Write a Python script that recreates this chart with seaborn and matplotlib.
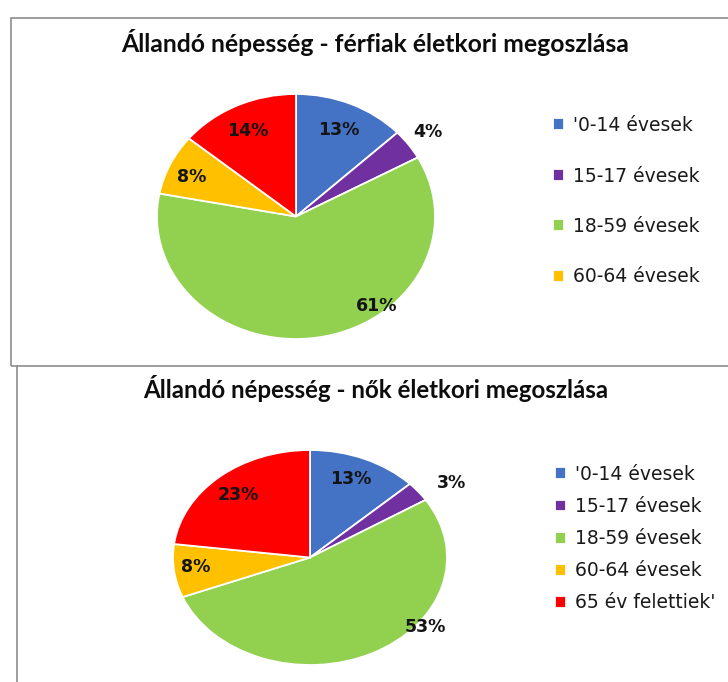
import numpy as np
import matplotlib
matplotlib.use("Agg")
import matplotlib.pyplot as plt
import seaborn as sns
from matplotlib.patches import Rectangle
from matplotlib.lines import Line2D

# ---- data ----
categories = ["'0-14 évesek", "15-17 évesek", "18-59 évesek", "60-64 évesek", "65 év felettiek'"]
men_values = [13, 4, 61, 8, 14]
women_values = [13, 3, 53, 8, 23]
men_title = "Állandó népesség - férfiak életkori megoszlása"
women_title = "Állandó népesség - nők életkori megoszlása"

sns.set_theme(style="white")
plt.rcParams['font.family'] = ['DejaVu Sans']
colors = sns.color_palette(["#4472C4", "#7030A0", "#92D050", "#FFC000", "#FF0000"])

W, H = 728, 682
fig = plt.figure(figsize=(W / 100, H / 100), dpi=100)
fig.patch.set_facecolor("white")


def fx(x):
    return x / W


def fy(y):
    return 1 - y / H


# frames
fig.patches.append(Rectangle((fx(11), fy(366)), fx(740) - fx(11), fy(18) - fy(366),
                             transform=fig.transFigure, fill=False,
                             edgecolor="#8c8c8c", linewidth=1.2))
fig.lines.append(Line2D([fx(17), fx(17)], [fy(366), fy(683)], transform=fig.transFigure,
                        color="#8c8c8c", linewidth=1.2))


def draw_pie(box, values, dists, offsets):
    x0, y0, x1, y1 = box
    ax = fig.add_axes([fx(x0), fy(y1), fx(x1) - fx(x0), fy(y0) - fy(y1)])
    wedges, _ = ax.pie(values, colors=colors, startangle=90, counterclock=False,
                       radius=1, wedgeprops=dict(edgecolor="white", linewidth=1.3))
    ax.set_xlim(-1, 1)
    ax.set_ylim(-1, 1)
    ax.set_aspect("auto")
    ax.axis("off")
    for w, v, d, off in zip(wedges, values, dists, offsets):
        mid = np.deg2rad((w.theta1 + w.theta2) / 2 + off)
        ax.text(d * np.cos(mid), d * np.sin(mid), f"{v}%", ha="center", va="center",
                fontsize=12.5, fontweight="bold", color="#141414", clip_on=False)
    return wedges


def fit_title(text, cx, baseline, width):
    t = fig.text(fx(cx), fy(baseline), text, ha="center", va="baseline",
                 fontsize=15, fontweight="bold", family=["Lato", "DejaVu Sans"], color="#0d0d0d")
    fig.canvas.draw()
    bb = t.get_window_extent()
    t.set_fontsize(15 * width / bb.width)
    return t


wm = draw_pie((157, 94, 435, 339), men_values,
              [0.77, 1.17, 0.93, 0.82, 0.78], [0, 0, 29.5, 2, 1])
ww = draw_pie((173, 450, 447, 665), women_values,
              [0.79, 1.24, 1.06, 0.84, 0.78], [1, -4, 25.4, -1, 0.6])

fit_title(men_title, 375, 52, 510)
fit_title(women_title, 376, 398, 468)

leg_kw = dict(loc="upper left", frameon=False, fontsize=13.5, handlelength=0.6,
              handleheight=0.6, handletextpad=0.45, borderpad=0, borderaxespad=0,
              labelcolor="#1a1a1a")
fig.legend(wm[:4], categories[:4], bbox_to_anchor=(fx(553), fy(116)),
           labelspacing=1.68, **leg_kw)
fig.legend(ww, categories, bbox_to_anchor=(fx(555), fy(465)),
           labelspacing=0.7, **leg_kw)

fig.savefig("out.png", dpi=100, facecolor="white")
